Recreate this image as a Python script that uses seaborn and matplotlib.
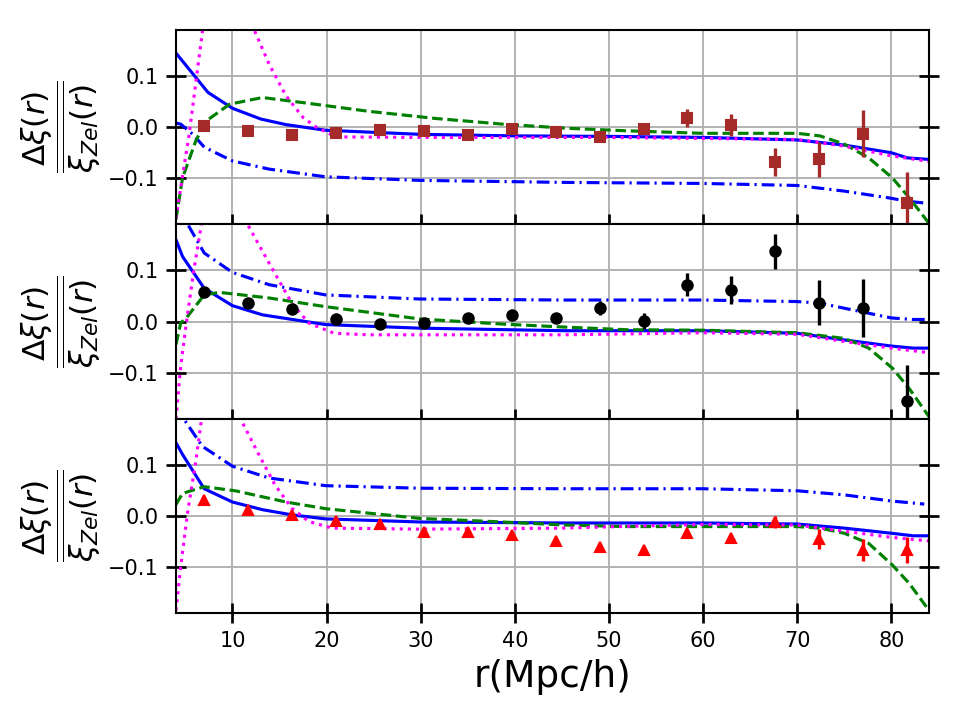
import numpy as np
import pandas as pd
import matplotlib
matplotlib.use("Agg")
import matplotlib.pyplot as plt
import seaborn as sns

sns.set_style("ticks")
plt.rcParams['font.family'] = ['DejaVu Sans']
plt.rcParams['mathtext.fontset'] = 'dejavusans'
for k in ['text.color', 'axes.labelcolor', 'xtick.color', 'ytick.color', 'axes.edgecolor']:
    plt.rcParams[k] = 'black'

# ---------------- data points ----------------
r_data = [7.0, 11.67, 16.33, 21.0, 25.67, 30.33, 35.0, 39.67, 44.33,
          49.0, 53.67, 58.33, 63.0, 67.67, 72.33, 77.0, 81.67]

top_y = [0.002, -0.008, -0.016, -0.012, -0.006, -0.007, -0.015, -0.004, -0.010,
         -0.020, -0.003, 0.018, 0.004, -0.068, -0.063, -0.013, -0.148]
top_err = [0.004, 0.004, 0.004, 0.004, 0.004, 0.004, 0.004, 0.005, 0.005,
           0.006, 0.008, 0.017, 0.021, 0.027, 0.034, 0.046, 0.060]

mid_y = [0.057, 0.037, 0.024, 0.005, -0.005, -0.002, 0.006, 0.013, 0.006,
         0.026, 0.001, 0.072, 0.062, 0.137, 0.037, 0.027, -0.155]
mid_err = [0.004, 0.004, 0.004, 0.004, 0.004, 0.004, 0.004, 0.005, 0.007,
           0.014, 0.016, 0.022, 0.027, 0.034, 0.044, 0.057, 0.070]

bot_y = [0.031, 0.012, 0.002, -0.010, -0.016, -0.032, -0.031, -0.037, -0.050,
         -0.060, -0.067, -0.034, -0.044, -0.012, -0.045, -0.067, -0.067]
bot_err = [0.003, 0.003, 0.003, 0.003, 0.003, 0.003, 0.003, 0.003, 0.003,
           0.003, 0.004, 0.004, 0.005, 0.011, 0.020, 0.022, 0.025]

# ---------------- model curves ----------------
# top panel
top_solid_x = [4.0, 7.4, 10.0, 13.0, 15.7, 19.9, 30.0, 40.0, 50.0, 60.0, 70.0, 75.0, 80.0, 81.7, 84.0]
top_solid_y = [0.145, 0.068, 0.037, 0.016, 0.005, -0.006, -0.014, -0.017, -0.018, -0.020, -0.025, -0.035, -0.050, -0.060, -0.063]
top_dd_x = [4.0, 4.5, 5.8, 7.0, 10.0, 13.9, 19.9, 29.9, 45.4, 60.0, 70.0, 75.0, 80.0, 81.7, 84.0]
top_dd_y = [0.008, 0.006, -0.014, -0.039, -0.066, -0.082, -0.097, -0.104, -0.108, -0.110, -0.114, -0.125, -0.139, -0.145, -0.149]
top_dash_x = [4.0, 4.7, 6.1, 7.2, 9.7, 13.2, 17.5, 24.5, 31.6, 38.7, 45.4, 51.8, 60.0, 70.0, 72.4, 75.0, 77.6, 80.1, 81.9, 84.0]
top_dash_y = [-0.180, -0.099, -0.027, 0.012, 0.045, 0.058, 0.048, 0.031, 0.017, 0.006, -0.002, -0.007, -0.012, -0.012, -0.017, -0.033, -0.060, -0.099, -0.138, -0.188]
top_dot_x = [4.0, 5.4, 6.9, 9.5, 12.2, 13.9, 15.7, 17.5, 18.9, 21.0, 30.0, 50.0, 70.0, 75.0, 80.0, 84.0]
top_dot_y = [-0.178, -0.014, 0.200, 0.900, 0.195, 0.123, 0.061, 0.019, 0.000, -0.019, -0.020, -0.020, -0.024, -0.037, -0.056, -0.067]

# middle panel
mid_solid_x = [4.0, 4.7, 7.0, 10.0, 13.2, 19.9, 29.9, 45.4, 60.0, 70.0, 75.0, 80.0, 82.3, 84.0]
mid_solid_y = [0.160, 0.127, 0.065, 0.031, 0.013, -0.006, -0.013, -0.018, -0.018, -0.023, -0.036, -0.048, -0.052, -0.052]
mid_dd_x = [4.0, 7.0, 10.0, 13.9, 19.9, 29.9, 45.4, 60.0, 70.0, 72.4, 75.0, 80.0, 82.3, 84.0]
mid_dd_y = [0.230, 0.134, 0.096, 0.072, 0.052, 0.044, 0.042, 0.042, 0.039, 0.036, 0.026, 0.007, 0.004, 0.004]
mid_dash_x = [4.0, 4.5, 5.1, 7.0, 8.6, 13.9, 19.9, 29.9, 38.7, 45.4, 51.8, 60.0, 70.0, 75.0, 77.6, 80.1, 81.9, 84.0]
mid_dash_y = [-0.045, -0.003, 0.007, 0.052, 0.057, 0.046, 0.029, 0.005, -0.005, -0.011, -0.016, -0.017, -0.022, -0.033, -0.052, -0.091, -0.131, -0.186]
mid_dot_x = [4.0, 4.5, 5.1, 5.9, 6.8, 9.2, 11.6, 13.9, 16.3, 18.1, 20.8, 24.5, 45.0, 60.0, 70.0, 75.0, 80.0, 84.0]
mid_dot_y = [-0.190, -0.088, -0.003, 0.101, 0.200, 0.900, 0.190, 0.114, 0.036, -0.003, -0.023, -0.026, -0.026, -0.022, -0.025, -0.039, -0.052, -0.061]

# bottom panel
bot_solid_x = [4.0, 4.7, 7.0, 10.0, 13.2, 16.3, 19.9, 29.9, 45.4, 60.0, 70.0, 75.0, 80.0, 82.3, 84.0]
bot_solid_y = [0.143, 0.120, 0.053, 0.027, 0.012, 0.002, -0.006, -0.012, -0.014, -0.014, -0.016, -0.024, -0.034, -0.039, -0.039]
bot_dd_x = [4.0, 5.1, 6.8, 10.0, 13.9, 19.9, 29.9, 45.4, 60.0, 70.0, 75.0, 80.0, 83.5]
bot_dd_y = [0.215, 0.182, 0.136, 0.097, 0.074, 0.059, 0.054, 0.053, 0.053, 0.049, 0.041, 0.029, 0.023]
bot_dash_x = [4.0, 4.7, 7.0, 10.3, 15.7, 19.9, 29.9, 38.7, 45.4, 51.8, 60.0, 70.0, 72.4, 75.0, 77.6, 80.1, 81.9, 84.0]
bot_dash_y = [0.022, 0.044, 0.057, 0.049, 0.027, 0.014, -0.005, -0.012, -0.018, -0.021, -0.021, -0.021, -0.024, -0.034, -0.054, -0.096, -0.132, -0.185]
bot_dot_x = [4.0, 4.5, 5.2, 6.1, 6.8, 8.8, 10.9, 12.8, 14.5, 16.3, 18.1, 20.6, 30.0, 45.0, 55.0, 60.0, 70.0, 75.0, 80.0, 84.0]
bot_dot_y = [-0.185, -0.100, 0.002, 0.106, 0.200, 0.900, 0.188, 0.120, 0.061, 0.015, -0.011, -0.024, -0.026, -0.024, -0.019, -0.017, -0.018, -0.030, -0.042, -0.049]

panels = [
    dict(y=top_y, err=top_err, marker='s', color='#A52A2A',
         solid=(top_solid_x, top_solid_y), dd=(top_dd_x, top_dd_y),
         dash=(top_dash_x, top_dash_y), dot=(top_dot_x, top_dot_y)),
    dict(y=mid_y, err=mid_err, marker='o', color='black',
         solid=(mid_solid_x, mid_solid_y), dd=(mid_dd_x, mid_dd_y),
         dash=(mid_dash_x, mid_dash_y), dot=(mid_dot_x, mid_dot_y)),
    dict(y=bot_y, err=bot_err, marker='^', color='red',
         solid=(bot_solid_x, bot_solid_y), dd=(bot_dd_x, bot_dd_y),
         dash=(bot_dash_x, bot_dash_y), dot=(bot_dot_x, bot_dot_y)),
]

fig, axes = plt.subplots(3, 1, figsize=(6.4, 4.8), dpi=150, sharex=True)
fig.subplots_adjust(left=0.1833, right=0.9677, top=0.9583, bottom=0.1486, hspace=0)

ylabel = r'$\dfrac{\Delta\xi(r)}{\overline{\xi_{Zel}(r)}}$'

for ax, p in zip(axes, panels):
    lw = 1.5
    sns.lineplot(x=p['solid'][0], y=p['solid'][1], ax=ax, color='blue', lw=lw,
                 sort=False, estimator=None)
    l = sns.lineplot(x=p['dd'][0], y=p['dd'][1], ax=ax, color='blue', lw=lw,
                     sort=False, estimator=None).lines[-1]
    l.set_dashes((4.1, 1.6, 0.7, 1.6))
    l = sns.lineplot(x=p['dash'][0], y=p['dash'][1], ax=ax, color='green', lw=lw,
                     sort=False, estimator=None).lines[-1]
    l.set_dashes((3.4, 1.5))
    l = sns.lineplot(x=p['dot'][0], y=p['dot'][1], ax=ax, color='magenta', lw=lw,
                     sort=False, estimator=None).lines[-1]
    l.set_dashes((1.0, 1.6))
    ax.errorbar(r_data, p['y'], yerr=p['err'], fmt=p['marker'], color=p['color'],
                ms=5, elinewidth=1.6, capsize=0, zorder=5)
    ax.set_xlim(4, 84)
    ax.set_ylim(-0.19, 0.19)
    ax.set_yticks([-0.1, 0.0, 0.1])
    ax.set_xticks([10, 20, 30, 40, 50, 60, 70, 80])
    ax.grid(True, color='#b0b0b0', lw=0.9)
    ax.set_axisbelow(True)
    ax.tick_params(axis='both', direction='inout', length=10, width=1.3,
                   labelsize=10, right=True, top=False, bottom=True, left=True,
                   colors='black')
    for s in ax.spines.values():
        s.set_linewidth(1.0)
        s.set_color('black')
    ax.set_ylabel(ylabel, fontsize=15, labelpad=2)
    ax.set_xlabel('')

axes[-1].set_xlabel('r(Mpc/h)', fontsize=18)

fig.savefig('out.png', dpi=150)
